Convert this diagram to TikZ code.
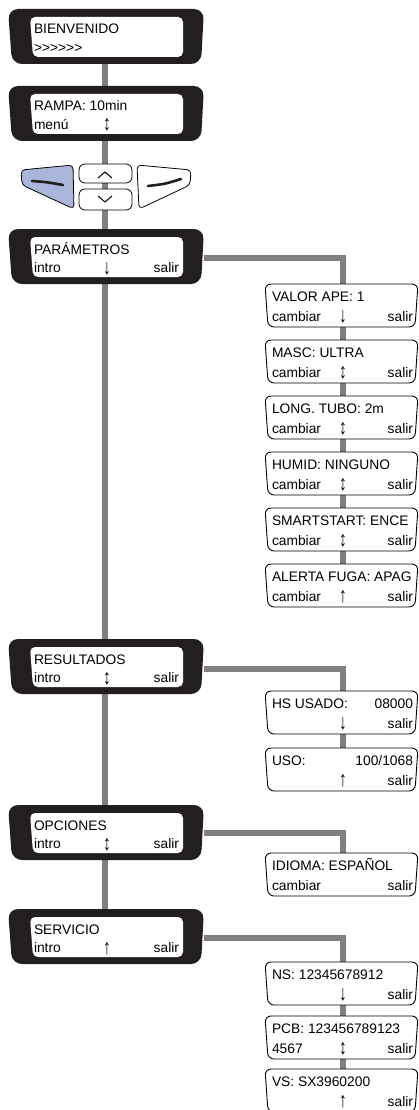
\documentclass[tikz,border=0pt]{standalone}
\usepackage{fontspec}
\setmainfont{Liberation Sans}
\usetikzlibrary{calc}
\definecolor{linegray}{HTML}{808080}
\definecolor{bezelblack}{HTML}{231F20}
\definecolor{btnblue}{HTML}{A9B5DB}

\newcommand{\arrglyph}[1]{\scalebox{1.12}[1.55]{#1}}

\tikzset{
  mainnode/.style={rectangle, minimum width=196pt, minimum height=55pt, inner sep=0pt, outer sep=0pt},
  subnode/.style={rectangle, minimum width=153pt, minimum height=43pt, inner sep=0pt, outer sep=0pt},
  conn/.style={draw=linegray, line width=6pt},
  txt/.style={inner sep=0pt, outer sep=0pt, font=\fontsize{13.8pt}{16pt}\selectfont},
  bezel/.style={fill=bezelblack, rounded corners=10pt},
  screen/.style={fill=white, rounded corners=5pt},
  subframe/.style={fill=white, draw=black, line width=0.9pt, rounded corners=6pt},
  btn/.style={draw=black, line width=0.8pt, rounded corners=4pt},
  btndash/.style={draw=bezelblack, line width=2.6pt, line cap=round},
  caret/.style={draw=black, line width=1pt},
}

\newcommand{\drawmain}[5]{%
  \fill[bezel] (#1.north west) -- (#1.north east) -- ([xshift=-3pt]#1.south east) -- ([xshift=4pt]#1.south west) -- cycle;
  \fill[screen] ([xshift=22pt,yshift=-8pt]#1.north west) -- ([xshift=-21pt,yshift=-8pt]#1.north east) -- ([xshift=-21pt,yshift=7pt]#1.south east) -- ([xshift=25pt,yshift=7pt]#1.south west) -- cycle;
  \node[txt, anchor=base west] (#1-a) at ([xshift=26pt,yshift=-25pt]#1.north west) {#2};
  \node[txt, anchor=base west] (#1-b) at ([xshift=26pt,yshift=-43.5pt]#1.north west) {#3};
  \if\relax\detokenize{#4}\relax\else
    \node[txt, anchor=base] (#1-c) at ([xshift=1pt,yshift=-45pt]#1.north) {\arrglyph{#4}};\fi
  \if\relax\detokenize{#5}\relax\else
    \node[txt, anchor=base east] (#1-d) at ([xshift=-25pt,yshift=-43.5pt]#1.north east) {#5};\fi
}

\newcommand{\drawsub}[6]{%
  \filldraw[subframe] (#1.north west) -- (#1.north east) -- ([xshift=-3pt]#1.south east) -- ([xshift=3pt]#1.south west) -- cycle;
  \node[txt, anchor=base west] (#1-a) at ([xshift=7pt,yshift=-17.5pt]#1.north west) {#2};
  \if\relax\detokenize{#3}\relax\else
    \node[txt, anchor=base east] (#1-b) at ([xshift=-5pt,yshift=-17.5pt]#1.north east) {#3};\fi
  \if\relax\detokenize{#4}\relax\else
    \node[txt, anchor=base west] (#1-c) at ([xshift=7pt,yshift=-37.5pt]#1.north west) {#4};\fi
  \if\relax\detokenize{#5}\relax\else
    \node[txt, anchor=base] (#1-d) at ([xshift=1.5pt,yshift=-38.5pt]#1.north) {\arrglyph{#5}};\fi
  \node[txt, anchor=base east] (#1-e) at ([xshift=-5pt,yshift=-37.5pt]#1.north east) {#6};
}

\begin{document}
\begin{tikzpicture}[x=1pt, y=-1pt]
\useasboundingbox (0,0) rectangle (419,1110);
\fill[white] (0,0) rectangle (419,1110);

% main boxes (placeholders)
\node[mainnode] (bien) at (106,36.5) {};
\node[mainnode] (ramp) at (106,113.5) {};
\node[mainnode] (par)  at (106,256.5) {};
\node[mainnode] (res)  at (106,666.5) {};
\node[mainnode] (opc)  at (106,832.5) {};
\node[mainnode] (serv) at (106,936.5) {};

% submenu boxes (placeholders)
\node[subnode] (valor)  at (341.5,305.5) {};
\node[subnode] (masc)   at (341.5,361.5) {};
\node[subnode] (tubo)   at (341.5,417.5) {};
\node[subnode] (humid)  at (341.5,473.5) {};
\node[subnode] (smart)  at (341.5,529.5) {};
\node[subnode] (fuga)   at (341.5,585.5) {};
\node[subnode] (hs)     at (341.5,712.5) {};
\node[subnode] (uso)    at (341.5,769.5) {};
\node[subnode] (idioma) at (341.5,874.5) {};
\node[subnode] (ns)     at (341.5,983.5) {};
\node[subnode] (pcb)    at (341.5,1037.5) {};
\node[subnode] (vs)     at (341.5,1090.5) {};

% connectors
\draw[conn] ([xshift=-1pt]bien.south) -- ([xshift=-1pt]serv.north);
\draw[conn] ([yshift=-1.5pt]par.east) -| ([xshift=1.5pt]valor.north);
\draw[conn] ([xshift=1.5pt]valor.south) -- ([xshift=1.5pt]fuga.north);
\draw[conn] ([yshift=-2.5pt]res.east) -| ([xshift=1.5pt]hs.north);
\draw[conn] ([xshift=1.5pt]hs.south) -- ([xshift=1.5pt]uso.north);
\draw[conn] ([yshift=0pt]opc.east) -| ([xshift=1.5pt]idioma.north);
\draw[conn] ([yshift=-1.5pt]serv.east) -| ([xshift=1.5pt]ns.north);
\draw[conn] ([xshift=1.5pt]ns.south) -- ([xshift=1.5pt]vs.north);

% buttons
\filldraw[btn, fill=btnblue] (21,170) -- (73,165) -- (74,209) -- (22,185) -- cycle;
\draw[btndash] (32,181) .. controls (46,182) .. (63,185);
\filldraw[btn, fill=white, rounded corners=6pt] (79,164) rectangle (132,183);
\draw[caret] (98,178) -- (105,172) -- (112,178);
\filldraw[btn, fill=white, rounded corners=6pt] (79,189) rectangle (132,210);
\draw[caret] (98,196) -- (105,202) -- (112,196);
\filldraw[btn, fill=white] (137,165) -- (191,170) -- (190,185) -- (139,209) -- cycle;
\draw[btndash] (148,186) .. controls (165,184) .. (181,179);

% main boxes drawn
\drawmain{bien}{BIENVENIDO}{>{}>{}>{}>{}>{}>}{}{}
\drawmain{ramp}{RAMPA: 10min}{menú}{↕}{}
\drawmain{par}{PARÁMETROS}{intro}{↓}{salir}
\drawmain{res}{RESULTADOS}{intro}{↕}{salir}
\drawmain{opc}{OPCIONES}{intro}{↕}{salir}
\drawmain{serv}{SERVICIO}{intro}{↑}{salir}

% submenus drawn
\drawsub{valor}{VALOR APE: 1}{}{cambiar}{↓}{salir}
\drawsub{masc}{MASC: ULTRA}{}{cambiar}{↕}{salir}
\drawsub{tubo}{LONG. TUBO: 2m}{}{cambiar}{↕}{salir}
\drawsub{humid}{HUMID: NINGUNO}{}{cambiar}{↕}{salir}
\drawsub{smart}{SMARTSTART: ENCE}{}{cambiar}{↕}{salir}
\drawsub{fuga}{ALERTA FUGA: APAG}{}{cambiar}{↑}{salir}
\drawsub{hs}{HS USADO:}{08000}{}{↓}{salir}
\drawsub{uso}{USO:}{100/1068}{}{↑}{salir}
\drawsub{idioma}{IDIOMA: ESPAÑOL}{}{cambiar}{}{salir}
\drawsub{ns}{NS: 12345678912}{}{}{↓}{salir}
\drawsub{pcb}{PCB: 123456789123}{}{4567}{↕}{salir}
\drawsub{vs}{VS: SX3960200}{}{}{↑}{salir}
\end{tikzpicture}
\end{document}
